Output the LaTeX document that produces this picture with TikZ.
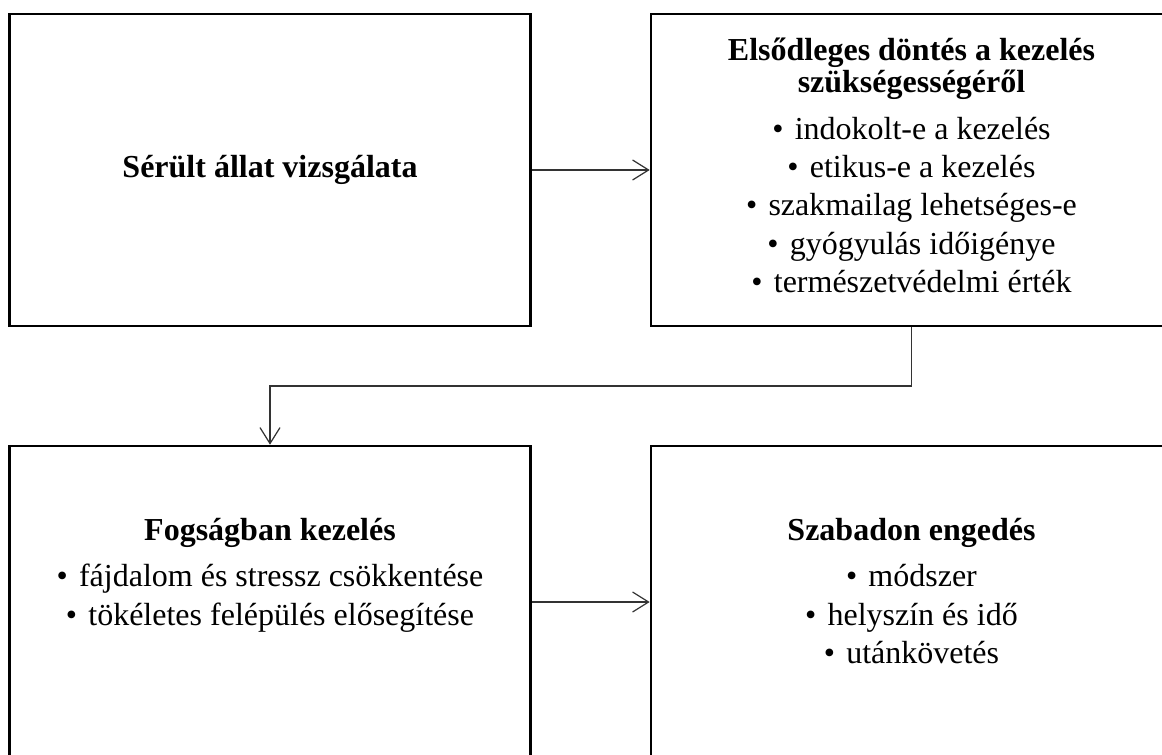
\documentclass[tikz,border=0pt]{standalone}
\usepackage{fontspec}
\setmainfont{Liberation Serif}
\usetikzlibrary{arrows.meta,positioning,calc}
\tikzset{
 box/.style={draw=black,line width=2.6pt,minimum width=521pt,minimum height=312pt,inner sep=0pt,align=center,font=\fontsize{32}{32}\selectfont},
 txt/.style={inner sep=0pt,align=center,font=\fontsize{32}{32}\selectfont},
 arr/.style={-{Straight Barb[length=16pt,width=20pt]},line width=1.2pt,draw=black!80}
}

\begin{document}
\begin{tikzpicture}[x=1pt,y=-1pt]
\useasboundingbox (0,0) rectangle (1162,755);
\clip (0,0) rectangle (1162,755);
\node[box] (exam) at (270,170) {\textbf{Sérült állat vizsgálata}};
\node[box] (decide) at (911.5,170) {};
\node[box] (care) at (270,602) {};
\node[box] (release) at (911.5,602) {};
\node[txt,below=25pt of decide.north] (decidetxt) {\textbf{Elsődleges döntés a kezelés}\\\textbf{szükségességéről}\\[14.7pt]
 \textbullet\hspace{.35em}indokolt-e a kezelés\\[6.3pt]
 \textbullet\hspace{.35em}etikus-e a kezelés\\[6.3pt]
 \textbullet\hspace{.35em}szakmailag lehetséges-e\\[6.3pt]
 \textbullet\hspace{.35em}gyógyulás időigénye\\[6.3pt]
 \textbullet\hspace{.35em}természetvédelmi érték};
\node[txt,below=73pt of care.north] (caretxt) {\textbf{Fogságban kezelés}\\[14.7pt]
 \textbullet\hspace{.35em}fájdalom és stressz csökkentése\\[6.3pt]
 \textbullet\hspace{.35em}tökéletes felépülés elősegítése};
\node[txt,below=73pt of release.north] (releasetxt) {\textbf{Szabadon engedés}\\[14.7pt]
 \textbullet\hspace{.35em}módszer\\[6.3pt]
 \textbullet\hspace{.35em}helyszín és idő\\[6.3pt]
 \textbullet\hspace{.35em}utánkövetés};
\draw[arr] (exam) -- (decide);
\draw[arr] (decide.south) |- ($(decide.south)!.5!(care.north)$) -| (care.north);
\draw[arr] (care) -- (release);
\end{tikzpicture}
\end{document}
